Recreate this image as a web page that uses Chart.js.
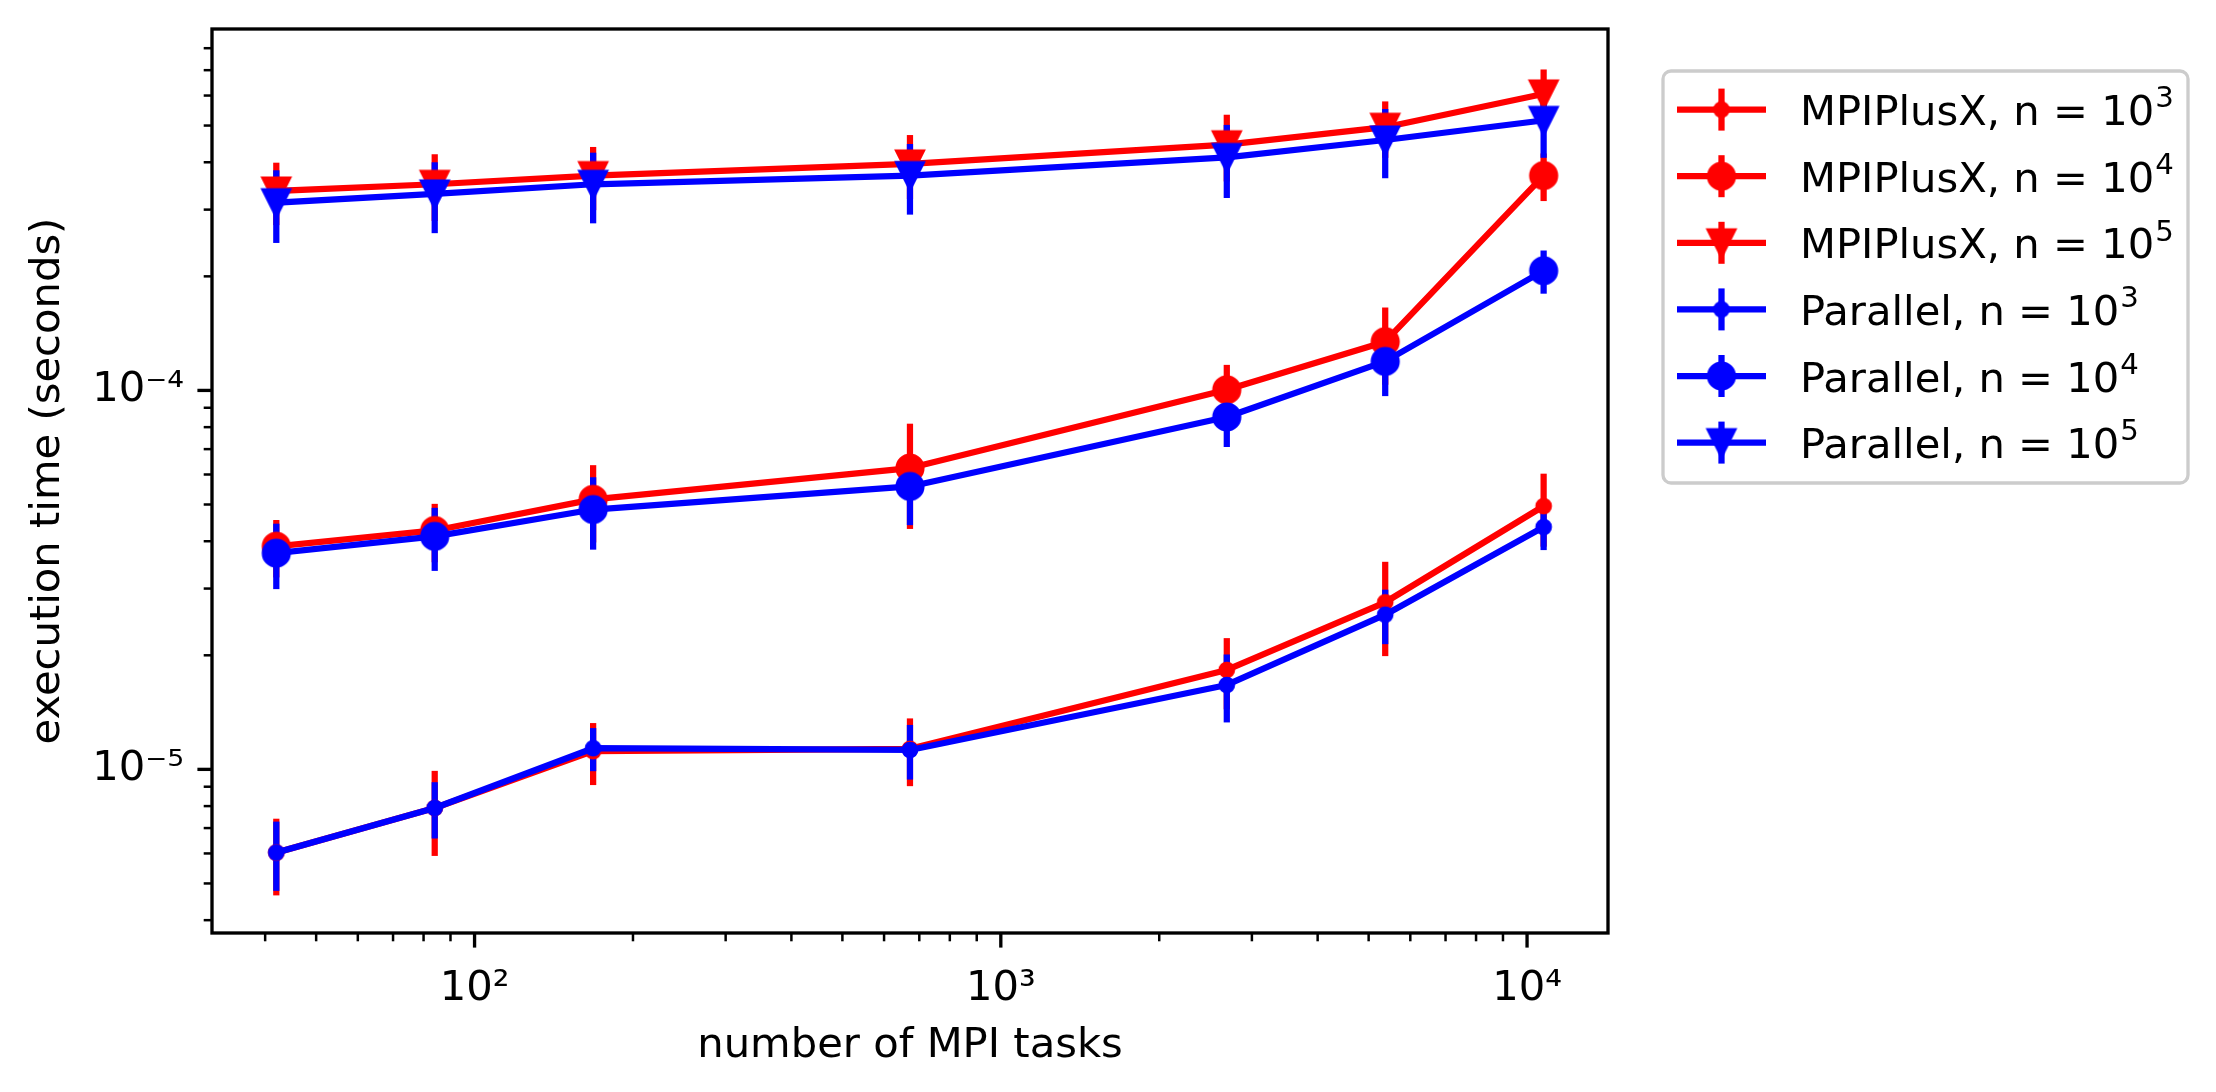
<!DOCTYPE html>
<html>
<head>
<meta charset="utf-8">
<script src="https://cdn.jsdelivr.net/npm/chart.js@4.4.1/dist/chart.umd.min.js"></script>
<style>
    html, body { margin: 0; padding: 0; background: #ffffff; }
    #wrap { width: 2216px; height: 1092px; }
</style>
</head>
<body>
<div id="wrap"><canvas id="myChart" width="2216" height="1092"></canvas></div>
<script>
// number of MPI tasks
const tasks = [42, 84, 168, 672, 2688, 5376, 10752];

// execution time (seconds), with symmetric error
const mpi3 = [6.03e-6, 7.91e-6, 1.117e-5, 1.133e-5, 1.83e-5, 2.76e-5, 4.95e-5];
const mpi3Err = [1.38e-6, 2.0e-6, 2.08e-6, 2.3e-6, 3.9e-6, 7.7e-6, 1.08e-5];
const mpi4 = [3.88e-5, 4.27e-5, 5.16e-5, 6.24e-5, 1.004e-4, 1.345e-4, 3.69e-4];
const mpi4Err = [6.7e-6, 7.5e-6, 1.19e-5, 1.93e-5, 1.64e-5, 3.1e-5, 5.3e-5];
const mpi5 = [3.36e-4, 3.50e-4, 3.69e-4, 3.96e-4, 4.45e-4, 4.95e-4, 6.06e-4];
const mpi5Err = [6.3e-5, 7.0e-5, 7.0e-5, 7.6e-5, 8.9e-5, 8.4e-5, 9.7e-5];
const par3 = [6.03e-6, 7.91e-6, 1.137e-5, 1.125e-5, 1.67e-5, 2.56e-5, 4.36e-5];
const par3Err = [1.25e-6, 1.34e-6, 1.48e-6, 1.85e-6, 3.4e-6, 4.2e-6, 5.7e-6];
const par4 = [3.72e-5, 4.12e-5, 4.85e-5, 5.58e-5, 8.51e-5, 1.193e-4, 2.07e-4];
const par4Err = [7.3e-6, 7.8e-6, 1.05e-5, 1.17e-5, 1.42e-5, 2.27e-5, 2.7e-5];
const par5 = [3.13e-4, 3.30e-4, 3.50e-4, 3.69e-4, 4.12e-4, 4.58e-4, 5.16e-4];
const par5Err = [6.8e-5, 7.0e-5, 7.4e-5, 7.8e-5, 9.0e-5, 9.5e-5, 1.05e-4];

const seriesNames = ['MPIPlusX', 'MPIPlusX', 'MPIPlusX', 'Parallel', 'Parallel', 'Parallel'];
const seriesPowers = ['3', '4', '5', '3', '4', '5'];
const seriesValues = [mpi3, mpi4, mpi5, par3, par4, par5];
const seriesErrors = [mpi3Err, mpi4Err, mpi5Err, par3Err, par4Err, par5Err];

const xTickValues = [100, 1000, 10000];
const xTickLabels = ['10²', '10³', '10⁴'];
const yTickValues = [1e-5, 1e-4];
const yTickLabels = ['10⁻⁵', '10⁻⁴'];

const FONT = '"DejaVu Sans"';
const LINE_W = 6.25;
const RED = '#ff0000';
const BLUE = '#0000ff';
const seriesColors = [RED, RED, RED, BLUE, BLUE, BLUE];
const seriesMarkers = ['dot', 'circle', 'triangle', 'dot', 'circle', 'triangle'];

function makeMarker(kind, color) {
    const c = document.createElement('canvas');
    c.width = 40;
    c.height = 40;
    const g = c.getContext('2d');
    g.fillStyle = color;
    g.strokeStyle = color;
    g.lineWidth = 4.17;
    g.lineJoin = 'miter';
    g.beginPath();
    if (kind === 'triangle') {
        g.moveTo(7.5, 7.5);
        g.lineTo(32.5, 7.5);
        g.lineTo(20, 32.5);
        g.closePath();
    } else {
        g.arc(20, 20, kind === 'dot' ? 6.25 : 12.5, 0, Math.PI * 2);
    }
    g.fill();
    g.stroke();
    return c;
}

function labelFor(values, labels, v) {
    const i = values.indexOf(v);
    return i >= 0 ? labels[i] : '';
}

function minorValues(min, max) {
    const out = [];
    for (let e = -7; e <= 5; e++) {
        for (let m = 2; m <= 9; m++) {
            const v = m * Math.pow(10, e);
            if (v >= min && v <= max) out.push(v);
        }
    }
    return out;
}

// matplotlib draws every error bar below every data line
const errorBarPlugin = {
    id: 'errorBars',
    beforeDatasetsDraw(chart) {
        const { ctx, chartArea, scales: { x, y } } = chart;
        ctx.save();
        ctx.beginPath();
        ctx.rect(chartArea.left, chartArea.top, chartArea.width, chartArea.height);
        ctx.clip();
        ctx.lineWidth = LINE_W;
        ctx.lineCap = 'butt';
        chart.data.datasets.forEach(ds => {
            ctx.strokeStyle = ds.borderColor;
            ds.data.forEach((p, i) => {
                const e = ds.yerr[i];
                const px = x.getPixelForValue(p.x);
                ctx.beginPath();
                ctx.moveTo(px, y.getPixelForValue(p.y - e));
                ctx.lineTo(px, y.getPixelForValue(p.y + e));
                ctx.stroke();
            });
        });
        ctx.restore();
    }
};

function roundRect(ctx, x, y, w, h, r) {
    ctx.beginPath();
    ctx.moveTo(x + r, y);
    ctx.arcTo(x + w, y, x + w, y + h, r);
    ctx.arcTo(x + w, y + h, x, y + h, r);
    ctx.arcTo(x, y + h, x, y, r);
    ctx.arcTo(x, y, x + w, y, r);
    ctx.closePath();
}

function drawLegend(chart) {
    const { ctx, chartArea } = chart;
    const left = chartArea.right + 55;
    const top = chartArea.top + 42;
    ctx.save();
    roundRect(ctx, left, top, 525, 412, 8);
    ctx.fillStyle = 'rgba(255,255,255,0.8)';
    ctx.fill();
    ctx.strokeStyle = '#cccccc';
    ctx.lineWidth = 3.33;
    ctx.stroke();

    chart.data.datasets.forEach((ds, s) => {
        const cy = top + 38.6 + s * 66.6;
        const x0 = left + 14;
        const x1 = left + 103;
        const cx = (x0 + x1) / 2;
        ctx.strokeStyle = ds.borderColor;
        ctx.lineWidth = LINE_W;
        ctx.lineCap = 'butt';
        ctx.beginPath();
        ctx.moveTo(cx, cy - 21);
        ctx.lineTo(cx, cy + 21);
        ctx.stroke();
        ctx.beginPath();
        ctx.moveTo(x0, cy);
        ctx.lineTo(x1, cy);
        ctx.stroke();
        ctx.drawImage(ds.pointStyle, cx - 20, cy - 20);

        ctx.fillStyle = '#000000';
        ctx.textAlign = 'left';
        ctx.textBaseline = 'alphabetic';
        ctx.font = `41.7px ${FONT}`;
        const base = `${seriesNames[s]}, n = 10`;
        const tx = left + 137;
        const ty = cy + 15.5;
        ctx.fillText(base, tx, ty);
        const bw = ctx.measureText(base).width;
        ctx.font = `29.2px ${FONT}`;
        ctx.fillText(seriesPowers[s], tx + bw + 1, ty - 17.7);
    });
    ctx.restore();
}

// frame, outward major/minor ticks and the legend
const framePlugin = {
    id: 'frame',
    afterDraw(chart) {
        const { ctx, chartArea: a, scales: { x, y } } = chart;
        ctx.save();
        ctx.strokeStyle = '#000000';
        ctx.lineCap = 'butt';

        ctx.lineWidth = 2.5;
        minorValues(x.min, x.max).forEach(v => {
            const px = x.getPixelForValue(v);
            ctx.beginPath();
            ctx.moveTo(px, a.bottom);
            ctx.lineTo(px, a.bottom + 8.3);
            ctx.stroke();
        });
        minorValues(y.min, y.max).forEach(v => {
            const py = y.getPixelForValue(v);
            ctx.beginPath();
            ctx.moveTo(a.left, py);
            ctx.lineTo(a.left - 8.3, py);
            ctx.stroke();
        });

        ctx.lineWidth = 3.33;
        xTickValues.forEach(v => {
            const px = x.getPixelForValue(v);
            ctx.beginPath();
            ctx.moveTo(px, a.bottom);
            ctx.lineTo(px, a.bottom + 14.6);
            ctx.stroke();
        });
        yTickValues.forEach(v => {
            const py = y.getPixelForValue(v);
            ctx.beginPath();
            ctx.moveTo(a.left, py);
            ctx.lineTo(a.left - 14.6, py);
            ctx.stroke();
        });

        ctx.lineJoin = 'miter';
        ctx.strokeRect(a.left, a.top, a.width, a.height);
        ctx.restore();

        drawLegend(chart);
    }
};

const datasets = seriesValues.map((vals, s) => {
    const marker = makeMarker(seriesMarkers[s], seriesColors[s]);
    return {
        label: `${seriesNames[s]}, n = 10^${seriesPowers[s]}`,
        data: tasks.map((t, i) => ({ x: t, y: vals[i] })),
        yerr: seriesErrors[s],
        borderColor: seriesColors[s],
        backgroundColor: seriesColors[s],
        borderWidth: LINE_W,
        borderJoinStyle: 'round',
        borderCapStyle: 'square',
        pointStyle: marker,
        pointRadius: 15,
        pointHoverRadius: 15,
        pointBorderWidth: 0,
        tension: 0,
        fill: false,
        order: 6 - s
    };
});

const tickFont = { family: 'DejaVu Sans', size: 41.7 };

new Chart(document.getElementById('myChart').getContext('2d'), {
    type: 'line',
    data: { datasets: datasets },
    options: {
        responsive: false,
        devicePixelRatio: 1,
        animation: false,
        events: [],
        layout: { padding: { left: 0, top: 29, right: 608, bottom: 0 } },
        plugins: {
            legend: { display: false },
            tooltip: { enabled: false }
        },
        scales: {
            x: {
                type: 'logarithmic',
                bounds: 'data',
                min: 31.7,
                max: 14250,
                grid: { display: false, drawTicks: false },
                border: { display: false },
                ticks: {
                    autoSkip: false,
                    maxRotation: 0,
                    padding: 31,
                    color: '#000000',
                    font: tickFont,
                    callback: v => labelFor(xTickValues, xTickLabels, v)
                },
                title: {
                    display: true,
                    text: 'number of MPI tasks',
                    color: '#000000',
                    font: { family: 'DejaVu Sans', size: 41.7 },
                    padding: { top: 0, bottom: 21 }
                },
                afterBuildTicks: scale => {
                    scale.ticks = xTickValues.map(v => ({ value: v }));
                },
                afterFit: scale => {
                    scale.height = 159;
                    scale.paddingLeft = 0;
                    scale.paddingRight = 0;
                }
            },
            y: {
                type: 'logarithmic',
                bounds: 'data',
                min: 3.70e-6,
                max: 8.99e-4,
                grid: { display: false, drawTicks: false },
                border: { display: false },
                ticks: {
                    autoSkip: false,
                    padding: 28,
                    color: '#000000',
                    font: tickFont,
                    callback: v => labelFor(yTickValues, yTickLabels, v)
                },
                title: {
                    display: true,
                    text: 'execution time (seconds)',
                    color: '#000000',
                    font: { family: 'DejaVu Sans', size: 41.7 },
                    padding: { top: 23, bottom: 0 }
                },
                afterBuildTicks: scale => {
                    scale.ticks = yTickValues.map(v => ({ value: v }));
                },
                afterFit: scale => {
                    scale.width = 212;
                    scale.paddingTop = 0;
                    scale.paddingBottom = 0;
                }
            }
        }
    },
    plugins: [errorBarPlugin, framePlugin]
});
</script>
</body>
</html>
